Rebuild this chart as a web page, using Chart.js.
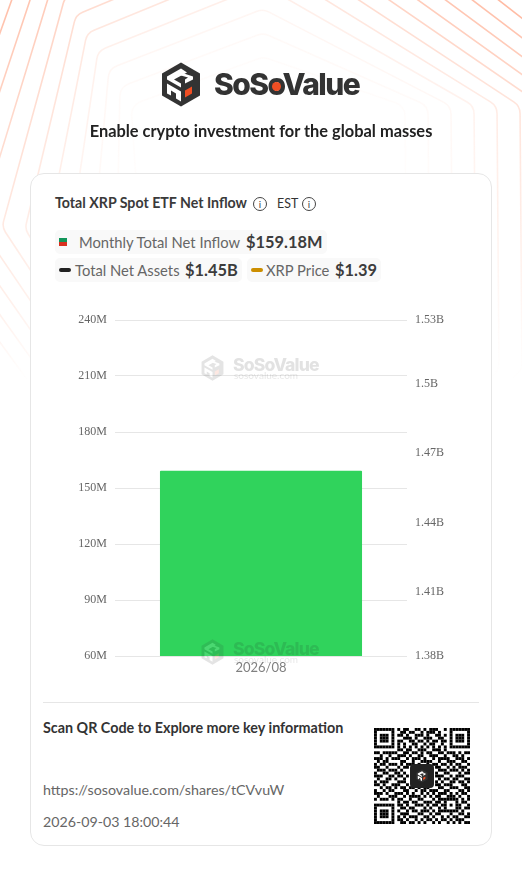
<!DOCTYPE html>
<html>
<head>
<meta charset="utf-8">
<title>Total XRP Spot ETF Net Inflow</title>
<script src="https://cdn.jsdelivr.net/npm/chart.js@4"></script>
<style>
  html, body { margin: 0; padding: 0; background: #fff; }
  body { position: relative; width: 522px; height: 876px; overflow: hidden; font-family: Lato, sans-serif; color: #333; }
  .abs { position: absolute; white-space: nowrap; }
  #bg { position: absolute; left: 0; top: 0; }
  #card { position: absolute; left: 30px; top: 173px; width: 460px; height: 671px; background: #fff; border: 1px solid #e6e6e6; border-radius: 14px; }
  .chip { position: absolute; background: #f9f9f9; border-radius: 5px; height: 24px; }
  .lbl { font-size: 14.75px; color: #666; line-height: 24px; }
  .val { font-size: 16.4px; font-weight: 700; color: #3c3c3c; line-height: 24px; }
  .info { position: absolute; width: 12px; height: 12px; border: 1px solid #444; border-radius: 50%; font: 10px/12px Lato, sans-serif; text-align: center; color: #444; }
  #chartBox { position: absolute; left: 40px; top: 300px; width: 442px; height: 390px; }
  .wm { position: absolute; opacity: .13; filter: blur(.5px); pointer-events: none; }
</style>
</head>
<body>
<canvas id="bg" width="522" height="400"></canvas>

<!-- logo -->
<svg class="abs" style="left:161px;top:62px" width="40" height="45" viewBox="0 0 40 44">
  <use href="#cube"></use>
</svg>
<div class="abs" id="logoText" style="left:214px;top:63px;font:800 30px/42px Inter,sans-serif;letter-spacing:-1.55px;color:#333">SoSoValue</div>
<div class="abs" style="left:272px;top:82px;width:9px;height:9px;border-radius:50%;background:#f04e23"></div>
<div class="abs" style="left:0;width:522px;text-align:center;top:120px;font:700 16.4px/22px Lato,sans-serif;color:#222">Enable crypto investment for the global masses</div>

<div id="card"></div>

<div class="abs" style="left:55px;top:193px;font:700 14.2px/20px Lato,sans-serif;color:#3a3a3a">Total XRP Spot ETF Net Inflow</div>
<div class="info" style="left:253px;top:197px">i</div>
<div class="abs" style="left:277px;top:194px;font:400 12.4px/20px Lato,sans-serif;color:#333">EST</div>
<div class="info" style="left:302px;top:197px">i</div>

<div class="chip" style="left:55px;top:230px;width:272px"></div>
<div class="abs" style="left:59px;top:238px;width:8px;height:4px;background:#12965a"></div>
<div class="abs" style="left:59px;top:242px;width:8px;height:4px;background:#d8301f"></div>
<div class="abs lbl" style="left:79px;top:230px">Monthly Total Net Inflow</div>
<div class="abs val" style="left:246px;top:230px">$159.18M</div>

<div class="chip" style="left:55px;top:258px;width:187px"></div>
<div class="abs" style="left:59px;top:268px;width:12px;height:4px;border-radius:2px;background:#222"></div>
<div class="abs lbl" style="left:75px;top:258px">Total Net Assets</div>
<div class="abs val" style="left:185px;top:258px">$1.45B</div>

<div class="chip" style="left:247px;top:258px;width:134px"></div>
<div class="abs" style="left:251px;top:268px;width:12px;height:4px;border-radius:2px;background:#cc8e00"></div>
<div class="abs lbl" style="left:266px;top:258px">XRP Price</div>
<div class="abs val" style="left:335px;top:258px">$1.39</div>

<div id="chartBox"><canvas id="etfChart"></canvas></div>

<!-- watermarks -->
<div class="wm" style="left:201px;top:354px;width:125px;height:28px" id="wm1"></div>
<div class="wm" style="left:201px;top:638px;width:125px;height:28px" id="wm2"></div>

<!-- footer -->
<div class="abs" style="left:43px;top:702px;width:436px;height:1px;background:#e6e6e6"></div>
<div class="abs" style="left:43px;top:718px;font:700 14.33px/20px Lato,sans-serif;color:#333">Scan QR Code to Explore more key information</div>
<div class="abs" style="left:43px;top:780px;font:400 14.28px/20px Lato,sans-serif;color:#666">https://sosovalue.com/shares/tCVvuW</div>
<div class="abs" style="left:43px;top:812px;font:400 14.2px/20px Lato,sans-serif;color:#666">2026-09-03 18:00:44</div>
<canvas id="qr" class="abs" style="left:374px;top:728px" width="96" height="96"></canvas>
<div class="abs" style="left:410px;top:764px;width:24px;height:24px;border-radius:4px;background:#222"></div>
<svg class="abs" style="left:416px;top:769px" width="12" height="14" viewBox="0 0 40 44"><use href="#cube"></use></svg>

<svg width="0" height="0" style="position:absolute">
  <defs>
    <g id="cube">
      <polygon points="20,0 39,11 39,33 20,44 1,33 1,11" fill="#333"></polygon>
      <polygon points="6,14 20,6 26,10 13,17 20,21 20,25 6,17" fill="#fff"></polygon>
      <polygon points="6,21 20,29 20,39 15,36 15,31 10,28 10,33 6,31" fill="#fff"></polygon>
      <polygon points="20,10 32,14 32,17 24,21 24,17 27,15 20,13" fill="#fff"></polygon>
      <polygon points="24,28 31,24 31,31 24,35" fill="#f04e23"></polygon>
    </g>
  </defs>
</svg>

<script>
/* chart data */
const categories = ['2026/08'];
const netInflow = [159180000];
const netAssets = [1450000000];
const xrpPrice = [1.39];
const leftTicks = [60, 90, 120, 150, 180, 210, 240];
// right axis ticks sit a bit off the grid in the source, labels are rounded
const rightTicks = [1.38, 1.4085, 1.4395, 1.4705, 1.5015, 1.53];

/* background lines */
const bg = document.getElementById('bg').getContext('2d');
const rings = [-1, 0, 1, 2, 3, 4, 5, 6, 7, 8, 9];
const ringAlpha = [0.03, 0.05, 0.08, 0.14, 0.22, 0.3, 0.38, 0.45, 0.5, 0.55, 0.6];
rings.forEach((k, n) => {
  const apex = [263, 33 - 24 * k];
  const ul = [120 - 11 * k, 87 - 18 * k];
  const ll = [117 - 23 * k, 237 - 2 * k];
  const ur = [428 + 23 * k, 106];
  const lr = [430 + 23 * k, 370];
  const bottom = [261, 520 + 20 * k];
  const alpha = ringAlpha[n];
  const grad = bg.createLinearGradient(0, 0, 0, 380);
  grad.addColorStop(0, `rgba(255,140,100,${alpha})`);
  grad.addColorStop(0.55, `rgba(255,140,100,${alpha * 0.55})`);
  grad.addColorStop(1, 'rgba(255,140,100,0)');
  bg.strokeStyle = grad;
  bg.lineWidth = 1.6;
  bg.beginPath();
  bg.moveTo((apex[0] + ul[0]) / 2, (apex[1] + ul[1]) / 2);
  bg.arcTo(apex[0], apex[1], ur[0], ur[1], 14);
  bg.arcTo(ur[0], ur[1], lr[0], lr[1], 14);
  bg.arcTo(lr[0], lr[1], bottom[0], bottom[1], 14);
  bg.arcTo(bottom[0], bottom[1], ll[0], ll[1], 14);
  bg.arcTo(ll[0], ll[1], ul[0], ul[1], 14);
  bg.arcTo(ul[0], ul[1], apex[0], apex[1], 14);
  bg.closePath();
  bg.stroke();
});

/* watermark */
['wm1', 'wm2'].forEach(id => {
  document.getElementById(id).innerHTML =
    '<svg style="position:absolute;left:0;top:1px" width="23" height="26" viewBox="0 0 40 44"><use href="#cube"></use></svg>' +
    '<div style="position:absolute;left:32px;top:-1px;font:800 17.6px/24px Inter,sans-serif;letter-spacing:-.85px;color:#222">SoSoValue</div>' +
    '<div style="position:absolute;left:33px;top:15px;font:400 10px/12px Lato,sans-serif;color:#444">sosovalue.com</div>';
});

/* chart */
const fmtRight = v => parseFloat(v.toFixed(2)) + 'B';
const serif = { family: '"Liberation Serif", serif', size: 12 };

new Chart(document.getElementById('etfChart'), {
  data: {
    labels: categories,
    datasets: [
      {
        type: 'bar',
        label: 'Monthly Total Net Inflow',
        data: netInflow.map(v => v / 1e6),
        backgroundColor: '#30d35c',
        borderRadius: 1,
        borderSkipped: false,
        barPercentage: 0.692,
        categoryPercentage: 1,
        yAxisID: 'y'
      },
      {
        type: 'line',
        label: 'Total Net Assets',
        data: netAssets.map(v => v / 1e9),
        borderColor: '#222',
        pointRadius: 0,
        yAxisID: 'y1'
      },
      {
        type: 'line',
        label: 'XRP Price',
        data: xrpPrice,
        borderColor: '#cc8e00',
        pointRadius: 0,
        yAxisID: 'y2'
      }
    ]
  },
  options: {
    responsive: true,
    maintainAspectRatio: false,
    animation: false,
    layout: { padding: { top: 20, bottom: 0, left: 0, right: 0 } },
    plugins: { legend: { display: false }, tooltip: { enabled: false } },
    scales: {
      x: {
        grid: { display: false, drawTicks: false },
        border: { display: false },
        ticks: { color: '#808080', font: { family: 'Lato', size: 13 }, padding: 4 },
        afterFit: s => { s.height = 34; }
      },
      y: {
        position: 'left',
        min: 60,
        max: 240,
        afterBuildTicks: s => { s.ticks = leftTicks.map(v => ({ value: v })); },
        afterFit: s => { s.width = 75; },
        grid: { color: '#e6e6e6', drawTicks: false },
        border: { display: false },
        ticks: { color: '#666', font: serif, padding: 8, callback: v => v + 'M' }
      },
      y1: {
        position: 'right',
        min: 1.38,
        max: 1.53,
        afterBuildTicks: s => { s.ticks = rightTicks.map(v => ({ value: v })); },
        afterFit: s => { s.width = 75; },
        grid: { display: false, drawTicks: false },
        border: { display: false },
        ticks: { color: '#666', font: serif, padding: 8, callback: fmtRight }
      },
      y2: { display: false, position: 'right', min: 1, max: 2 }
    }
  }
});

/* qr code */
const qrRows = [
  '111111101011001101011100101111111',
  '100000100110110010111010001000001',
  '101110101101001110100110101011101',
  '101110100011101001110011001011101',
  '101110101100110110101101101011101',
  '100000101010011001011001001000001',
  '111111101010101010101010101111111',
  '000000001101100111001110100000000',
  '110111110011011010110011011101011',
  '001001001110100110011100100110100',
  '111010111001011101001011110011101',
  '010110000110010011110010011100110',
  '101101110101110100101101101011001',
  '110010001011000000000110010101110',
  '011101110100000000000011101110101',
  '100110011010000000000100110001011',
  '111001101101000000000111001011100',
  '010011010010000000000010110110011',
  '101110001110000000000101001101101',
  '110100111001000000000110111000110',
  '001011010110110101100011001110011',
  '100101100011001011011100110001101',
  '111010011101010010101011101010110',
  '010001110010111101010110011101001',
  '101110101100100110001011111110101',
  '000000001011011001110110100010110',
  '111111101101001110101101101011001',
  '100000100110110001010010100011011',
  '101110101001011011101011111110100',
  '101110100111000110010110001001101',
  '101110101010111001101001010110011',
  '100000101101001010110101101011100',
  '111111100110110101001010010101011'
];
const qr = document.getElementById('qr').getContext('2d');
const mod = 96 / 33;
qr.fillStyle = '#000';
qrRows.forEach((row, r) => {
  [...row].forEach((c, i) => {
    if (c === '1') qr.fillRect(i * mod, r * mod, mod, mod);
  });
});
</script>
</body>
</html>
